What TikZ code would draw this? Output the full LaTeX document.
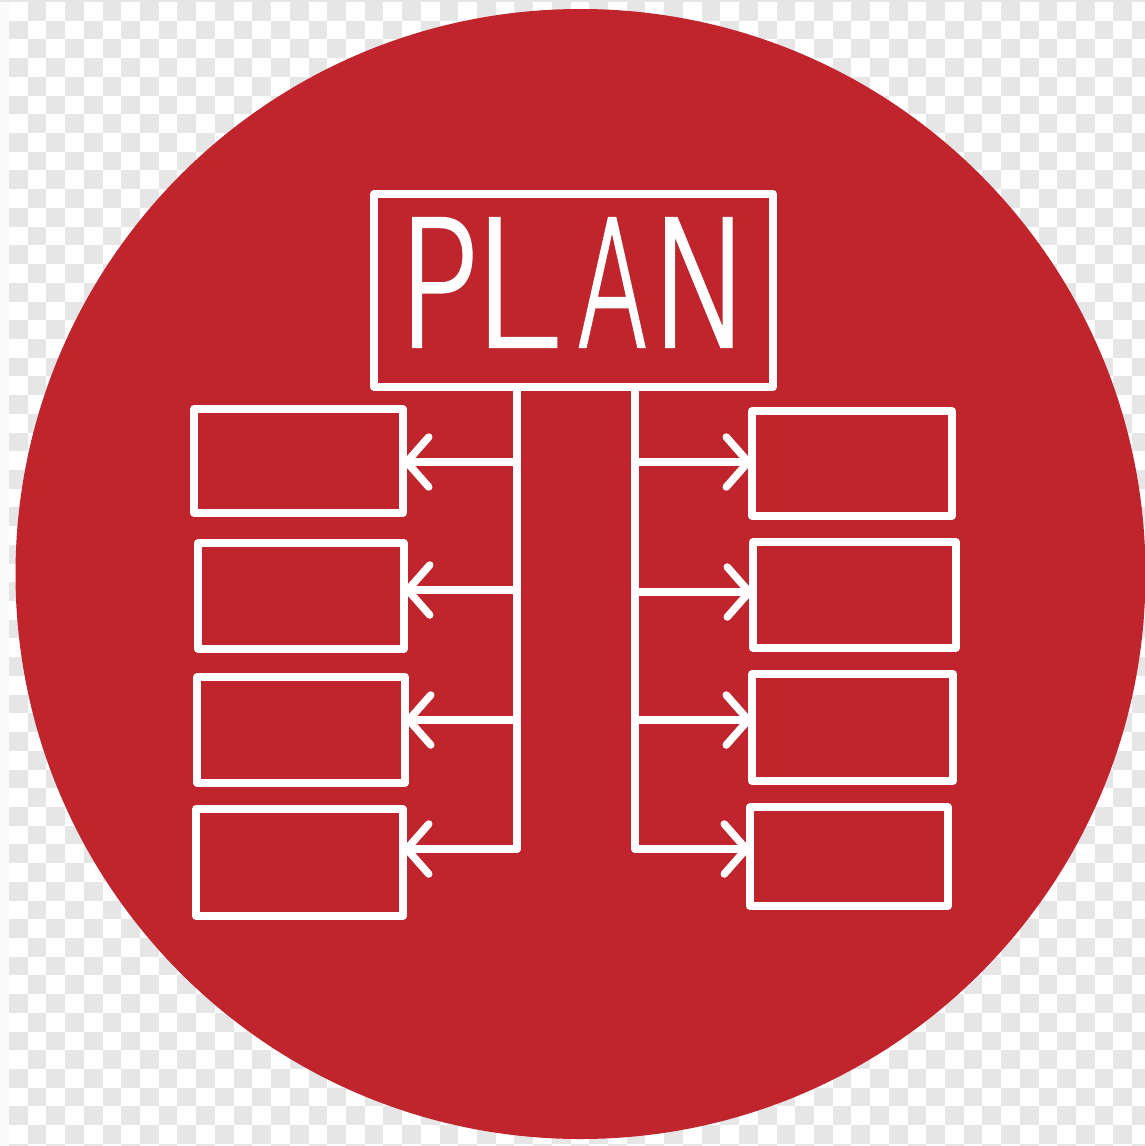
\documentclass[tikz,border=0pt]{standalone}
\usepackage{fontspec}
\setmainfont{Liberation Sans}
\newfontfamily\planfont{DejaVu Sans ExtraLight}[FakeBold=2.5,BoldFont={DejaVu Sans ExtraLight}]
\usetikzlibrary{arrows.meta}
\definecolor{planred}{RGB}{192,36,45}
\definecolor{checkgray}{RGB}{230,230,230}
\definecolor{stripgray}{RGB}{250,250,250}
\newcommand{\planletter}[2]{\resizebox{#1}{127pt}{\planfont\bfseries #2}}
\tikzset{
  sketch/.style={draw=white, line width=7.5pt, line join=round, line cap=round},
  subbox/.style={sketch, rectangle, inner sep=0pt, outer sep=0pt, minimum width=208pt, minimum height=105pt},
  planbox/.style={sketch, rectangle, inner sep=0pt, outer sep=0pt, minimum width=399pt, minimum height=193pt},
  link/.style={draw=white, line width=7.5pt, line cap=round, line join=miter,
    -{Straight Barb[length=22pt,width=50pt,line width=7.5pt,round]}},
  trunk/.style={draw=white, line width=7.5pt, line cap=round, line join=miter}
}
\begin{document}
\begin{tikzpicture}[x=1pt,y=-1pt]
\useasboundingbox (0,0) rectangle (1145,1146);
% checkerboard background
\fill[white] (0,0) rectangle (1145,1146);
\foreach \r in {0,...,61}{
  \foreach \c in {0,...,61}{
    \pgfmathtruncatemacro{\cellparity}{mod(\r+\c,2)}
    \ifnum\cellparity=1
      \fill[checkgray] ({9+\c*18.72},{2+\r*18.72}) rectangle ++(18.72,18.72);
    \fi
  }
}
\fill[checkgray] (0,0) rectangle (1145,2);
\fill[stripgray] (0,2) rectangle (9,1146);
% red disc
\fill[planred] (580.5,574) circle (565);
% title box
\node[planbox] (plan) at (573.5,290.5) {};
\node[text=white, inner sep=0pt, anchor=base west] (plantext) at (397,346)
  {\planletter{82pt}{P}\hspace{-8pt}\planletter{89pt}{L}\hspace{17pt}\planletter{70pt}{A}\hspace{3pt}\planletter{101pt}{N}};
% trunk
\coordinate (ltop) at (517,388);
\coordinate (lbot) at (517,849);
\coordinate (rtop) at (635,388);
\coordinate (rbot) at (635,849);
\draw[trunk] (ltop) -- (lbot);
\draw[trunk] (rtop) -- (rbot);
% left boxes
\node[subbox, minimum width=209pt, minimum height=104pt] (l1) at (298.5,461) {};
\node[subbox, minimum width=206pt, minimum height=106pt] (l2) at (301,596) {};
\node[subbox, minimum width=208pt, minimum height=106pt] (l3) at (301,730) {};
\node[subbox, minimum width=207pt, minimum height=107pt] (l4) at (299.5,862.5) {};
% right boxes
\node[subbox, minimum width=200pt, minimum height=105pt] (r1) at (852,463.5) {};
\node[subbox, minimum width=203pt, minimum height=106pt] (r2) at (854.5,595) {};
\node[subbox, minimum width=201pt, minimum height=107pt] (r3) at (852.5,727.5) {};
\node[subbox, minimum width=198pt, minimum height=99pt] (r4) at (849,856.5) {};
% left links
\coordinate (la1) at (517,462);
\coordinate (la2) at (517,590);
\coordinate (la3) at (517,720);
\draw[link] (la1) -- (l1.east |- la1);
\draw[link] (la2) -- (l2.east |- la2);
\draw[link] (la3) -- (l3.east |- la3);
\draw[link] (lbot) -- (l4.east |- lbot);
% right links
\coordinate (ra1) at (635,462);
\coordinate (ra2) at (635,592);
\coordinate (ra3) at (635,720);
\draw[link] (ra1) -- (r1.west |- ra1);
\draw[link] (ra2) -- (r2.west |- ra2);
\draw[link] (ra3) -- (r3.west |- ra3);
\draw[link] (rbot) -- (r4.west |- rbot);
\end{tikzpicture}
\end{document}
